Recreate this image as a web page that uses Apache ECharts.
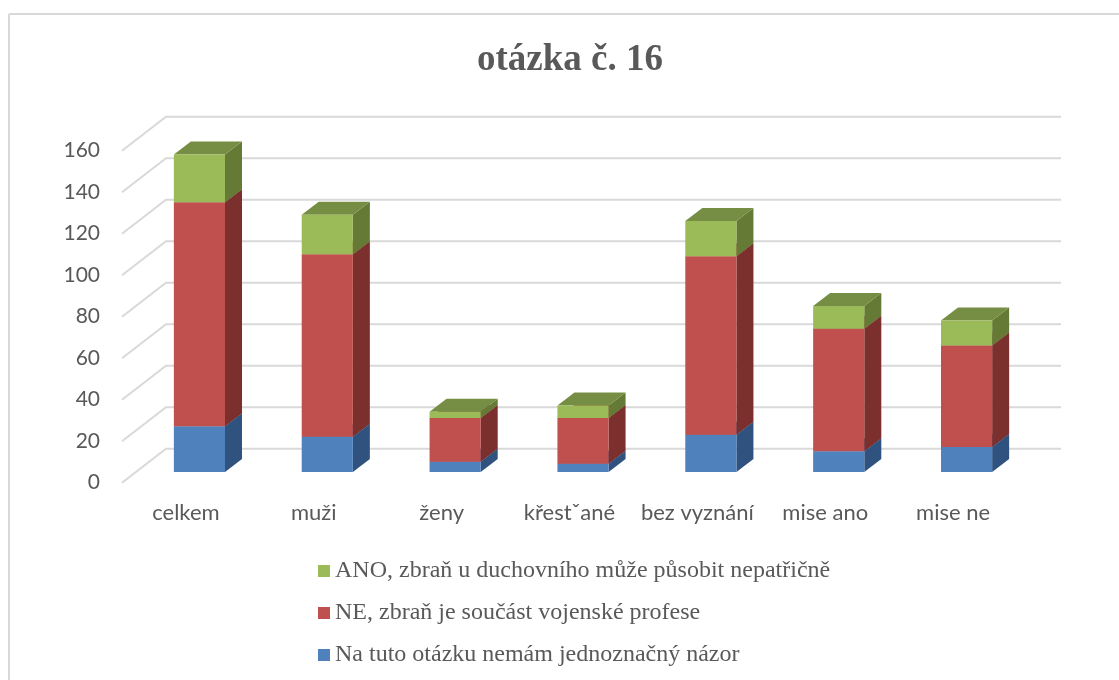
<!DOCTYPE html>
<html>
<head>
<meta charset="utf-8">
<title>otázka č. 16</title>
<script src="https://cdn.jsdelivr.net/npm/echarts@6/dist/echarts.min.js"></script>
<style>
html,body{margin:0;padding:0;background:#fff;}
#main{width:1119px;height:680px;}
</style>
</head>
<body>
<div id="main"></div>
<script>
const categories=['celkem','muži','ženy','křestˇané','bez vyznání','mise ano','mise ne']
const yTicks=[0,20,40,60,80,100,120,140,160]
const nejednoznacne=[22,17,5,4,18,10,12]
const ne=[108,88,21,22,86,59,49]
const ano=[23,19,3,6,17,11,12]

const seriesNames=[
  'Na tuto otázku nemám jednoznačný názor',
  'NE, zbraň je součást vojenské profese',
  'ANO, zbraň u duchovního může působit nepatřičně'
]
const seriesColors=[
  {front:'#4f81bd',side:'#30527e',top:'#3d6594'},
  {front:'#c0504d',side:'#7b302e',top:'#964040'},
  {front:'#9bbb59',side:'#647a35',top:'#768e43'}
]
const gridColor='#d9d9d9'
const textColor='#595959'

// posun sloupce od predni hrany grafu a hloubka 3D
const wall={dx:44,dy:-34}
const barShift={dx:13.5,dy:-10.7}
const barDepth={dx:17,dy:-13}

function stacked(values,lower){
  return values.map((v,i)=>[i,lower[i],lower[i]+v])
}
const zero=categories.map(()=>0)
const stack1=stacked(nejednoznacne,zero)
const stack2=stacked(ne,stack1.map(d=>d[2]))
const stack3=stacked(ano,stack2.map(d=>d[2]))

function poly(points,fill){
  return {type:'polygon',shape:{points:points},style:{fill:fill}}
}
function renderBar(colors){
  return function(params,api){
    const base=api.coord([api.value(0),api.value(1)])
    const top=api.coord([api.value(0),api.value(2)])
    const w=api.size([1,0])[0]*0.4
    const x0=base[0]-w/2+barShift.dx
    const x1=x0+w
    const y0=base[1]+barShift.dy
    const y1=top[1]+barShift.dy
    const dx=barDepth.dx,dy=barDepth.dy
    return {type:'group',children:[
      poly([[x1,y0],[x1+dx,y0+dy],[x1+dx,y1+dy],[x1,y1]],colors.side),
      poly([[x0,y1],[x1,y1],[x1+dx,y1+dy],[x0+dx,y1+dy]],colors.top),
      poly([[x0,y0],[x1,y0],[x1,y1],[x0,y1]],colors.front)
    ]}
  }
}
function renderGridLine(params,api){
  const y=api.coord([0,api.value(0)])[1]
  const x0=params.coordSys.x
  const x1=x0+params.coordSys.width
  return {type:'polyline',
    shape:{points:[[x0,y],[x0+wall.dx,y+wall.dy],[x1+wall.dx,y+wall.dy]]},
    style:{fill:null,stroke:gridColor,lineWidth:2}}
}

const option={
  animation:false,
  backgroundColor:'#fff',
  title:{
    text:'otázka č. 16',
    left:565,
    top:37,
    textAlign:'center',
    textStyle:{fontFamily:'Liberation Serif',fontSize:37,fontWeight:'bold',color:textColor}
  },
  legend:{
    orient:'vertical',
    left:313,
    top:554,
    height:125,
    icon:'rect',
    itemWidth:12,
    itemHeight:12,
    itemGap:18,
    selectedMode:false,
    data:[seriesNames[2],seriesNames[1],seriesNames[0]],
    textStyle:{fontFamily:'Liberation Serif',fontSize:24,color:textColor,padding:[0,0,0,0]}
  },
  grid:{left:122,top:150.7,width:895,height:332},
  xAxis:{
    type:'category',
    data:categories,
    axisLine:{show:false},
    axisTick:{show:false},
    axisLabel:{interval:0,fontFamily:'Lato',fontSize:22,color:textColor,margin:19}
  },
  yAxis:{
    type:'value',
    min:0,
    max:160,
    interval:20,
    axisLine:{show:false},
    axisTick:{show:false},
    splitLine:{show:false},
    axisLabel:{fontFamily:'Lato',fontSize:21,color:textColor,margin:22,padding:[3,0,0,0]}
  },
  graphic:[
    {type:'line',shape:{x1:9,y1:14,x2:1119,y2:14},style:{stroke:gridColor,lineWidth:2}},
    {type:'line',shape:{x1:9,y1:14,x2:9,y2:680},style:{stroke:gridColor,lineWidth:2}}
  ],
  series:[
    {type:'custom',name:'mrizka',silent:true,z:1,data:yTicks.map(t=>[t]),encode:{y:0},renderItem:renderGridLine},
    {type:'custom',name:seriesNames[0],z:2,itemStyle:{color:seriesColors[0].front},encode:{x:0,y:[1,2]},data:stack1,renderItem:renderBar(seriesColors[0])},
    {type:'custom',name:seriesNames[1],z:3,itemStyle:{color:seriesColors[1].front},encode:{x:0,y:[1,2]},data:stack2,renderItem:renderBar(seriesColors[1])},
    {type:'custom',name:seriesNames[2],z:4,itemStyle:{color:seriesColors[2].front},encode:{x:0,y:[1,2]},data:stack3,renderItem:renderBar(seriesColors[2])}
  ]
}
echarts.init(document.getElementById('main')).setOption(option)
</script>
</body>
</html>
